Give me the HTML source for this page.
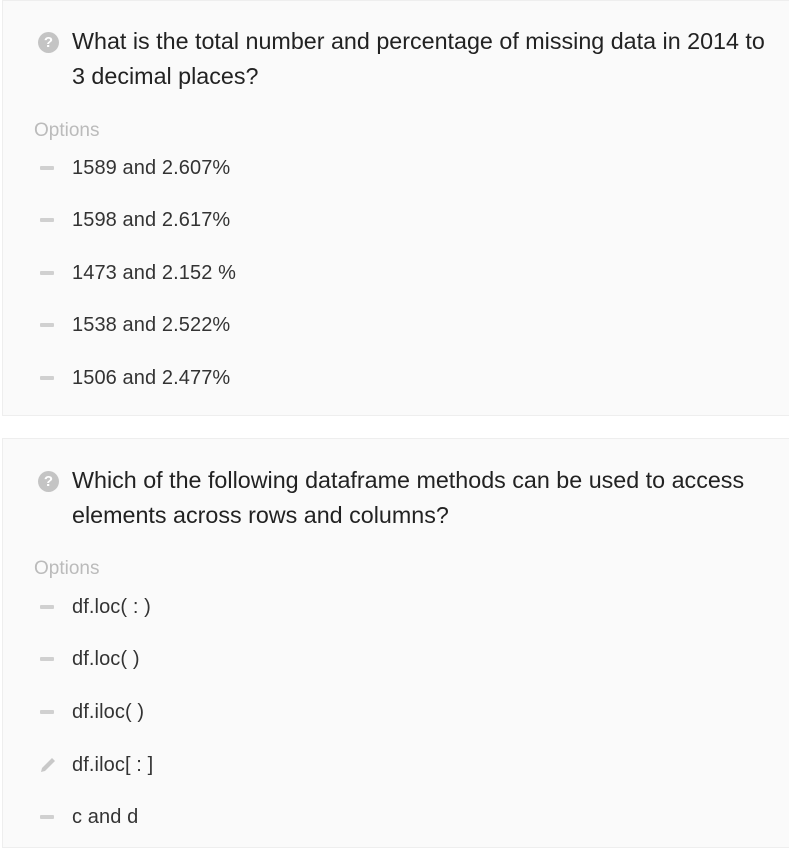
<!DOCTYPE html>
<html><head><meta charset="utf-8">
<style>
body{margin:0;width:789px;height:837px;background:#fff;font-family:"Liberation Sans",sans-serif;position:relative;overflow:hidden}
.card{position:absolute;left:2px;width:790px;background:#fafafa;border:1px solid #eeeeee;box-sizing:border-box}
.q{position:absolute;left:72px;font-size:23.3px;color:#222;line-height:35px;white-space:nowrap;letter-spacing:0}
.qi{position:absolute;left:38px;width:21px;height:21px;border-radius:50%;background:#c4c4c4;color:#fff;font-size:15px;font-weight:bold;text-align:center;line-height:21px}
.lbl{position:absolute;left:34px;font-size:19px;color:#bbb;line-height:24px}
.opt{position:absolute;left:72px;font-size:20px;color:#333;line-height:24px;white-space:nowrap;letter-spacing:0.1px}
.dash{position:absolute;left:40px;width:14px;height:4px;background:#d0d0d0;border-radius:1px}
</style></head><body>
<div class="card" style="top:0;height:416px"></div>
<div class="card" style="top:438px;height:410px"></div>

<div class="qi" style="top:32px">?</div>
<div class="q" style="top:24px">What is the total number and percentage of missing data in 2014 to<br>3 decimal places?</div>
<div class="lbl" style="top:119px">Options</div>
<div class="dash" style="top:166px"></div><div class="opt" style="top:156px">1589 and 2.607%</div>
<div class="dash" style="top:218px"></div><div class="opt" style="top:208px">1598 and 2.617%</div>
<div class="dash" style="top:271px"></div><div class="opt" style="top:261px">1473 and 2.152 %</div>
<div class="dash" style="top:323px"></div><div class="opt" style="top:313px">1538 and 2.522%</div>
<div class="dash" style="top:376px"></div><div class="opt" style="top:366px">1506 and 2.477%</div>

<div class="qi" style="top:471px">?</div>
<div class="q" style="top:463px">Which of the following dataframe methods can be used to access<br>elements across rows and columns?</div>
<div class="lbl" style="top:557px">Options</div>
<div class="dash" style="top:605px"></div><div class="opt" style="top:595px">df.loc( : )</div>
<div class="dash" style="top:657px"></div><div class="opt" style="top:647px">df.loc( )</div>
<div class="dash" style="top:710px"></div><div class="opt" style="top:700px">df.iloc( )</div>
<svg style="position:absolute;left:38px;top:755px" width="20" height="20" viewBox="0 0 20 20"><path d="M3 17 L4 13 L14 3 L17 6 L7 16 Z" fill="#c8c8c8"/></svg>
<div class="opt" style="top:753px">df.iloc[ : ]</div>
<div class="dash" style="top:815px"></div><div class="opt" style="top:805px">c and d</div>
</body></html>
